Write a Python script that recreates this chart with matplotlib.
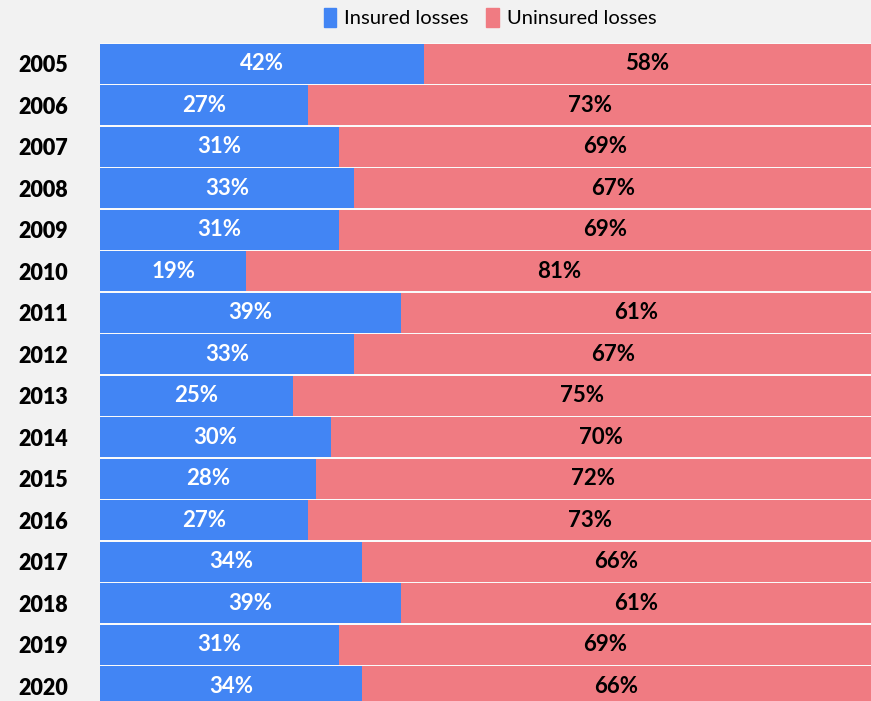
import numpy as np
import matplotlib.pyplot as plt
from matplotlib.patches import Patch

plt.rcParams['font.family'] = ['Lato', 'DejaVu Sans']

years = ['2005', '2006', '2007', '2008', '2009', '2010', '2011', '2012',
         '2013', '2014', '2015', '2016', '2017', '2018', '2019', '2020']
insured = [42, 27, 31, 33, 31, 19, 39, 33, 25, 30, 28, 27, 34, 39, 31, 34]
uninsured = [58, 73, 69, 67, 69, 81, 61, 67, 75, 70, 72, 73, 66, 61, 69, 66]

blue = '#4285f4'
pink = '#f07b82'
bg = '#f2f2f2'

fig = plt.figure(figsize=(8.71, 7.01), dpi=100)
fig.patch.set_facecolor(bg)
ax = fig.add_axes([100 / 871, -6 / 701, 771 / 871, 664 / 701])
ax.set_facecolor('#fafafa')

y = np.arange(len(years))
h = 0.952
ax.barh(y, insured, height=h, color=blue, label='Insured losses')
ax.barh(y, uninsured, left=insured, height=h, color=pink, label='Uninsured losses')

for i in range(len(years)):
    ax.text(insured[i] / 2, y[i], f'{insured[i]}%', ha='center', va='center',
            color='white', fontsize=16, fontweight='bold')
    ax.text(insured[i] + uninsured[i] / 2, y[i], f'{uninsured[i]}%', ha='center',
            va='center', color='black', fontsize=16, fontweight='bold')

ax.set_xlim(0, 100)
ax.set_ylim(len(years) - 0.5, -0.5)
ax.set_yticks(y)
ax.set_yticklabels(years, fontsize=15.5, fontweight='heavy')
ax.tick_params(axis='y', length=0, pad=23)
ax.set_xticks([])
for s in ax.spines.values():
    s.set_visible(False)

handles = [Patch(color=blue), Patch(color=pink)]
fig.legend(handles, ['Insured losses', 'Uninsured losses'], loc='upper center',
           bbox_to_anchor=(0.5625, 1.015), ncol=2, frameon=False, fontsize=14.5,
           handlelength=0.6, handleheight=1.1, handletextpad=0.4, columnspacing=0.9)

fig.savefig('out.png', dpi=100, facecolor=bg)
